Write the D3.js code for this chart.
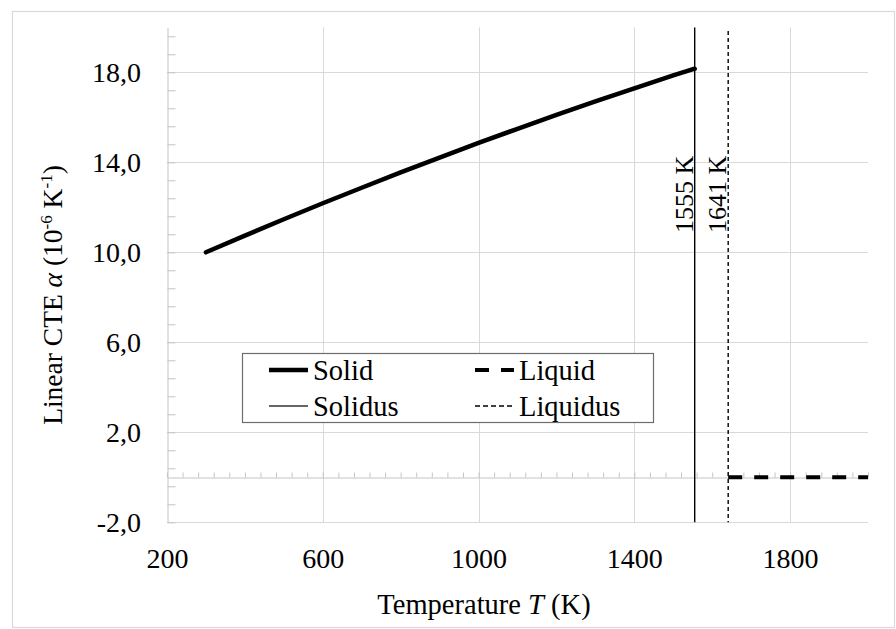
<!DOCTYPE html>
<html>
<head>
<meta charset="utf-8">
<script src="https://cdn.jsdelivr.net/npm/d3@7"></script>
<style>
  html, body { margin: 0; padding: 0; background: #fff; }
  svg { display: block; }
</style>
</head>
<body>
<svg id="chart" width="896" height="629"></svg>
<script>
// Linear coefficient of thermal expansion vs temperature
const solidT   = [300, 400, 500, 600, 700, 800, 900, 1000, 1100, 1200, 1300, 1400, 1500, 1555];
const solidCTE = [10.00, 10.74, 11.47, 12.18, 12.87, 13.55, 14.21, 14.86, 15.49, 16.11, 16.71, 17.29, 17.86, 18.16];
const liquidT   = [1641, 2000];
const liquidCTE = [0, 0];
const solidusT  = 1555;
const liquidusT = 1641;
const xTicks = [200, 600, 1000, 1400, 1800];
const yTicks = [-2, 2, 6, 10, 14, 18];
const markerLabels = ["1555 K", "1641 K"];
const legendLabels = ["Solid", "Liquid", "Solidus", "Liquidus"];

// pick the first serif face that is actually installed
function pickFont(candidates) {
  const ctx = document.createElement("canvas").getContext("2d");
  const probe = "Temperature 1234567890 Liquidus";
  ctx.font = "40px monospace";
  const base = ctx.measureText(probe).width;
  for (const f of candidates) {
    ctx.font = `40px "${f}", monospace`;
    if (Math.abs(ctx.measureText(probe).width - base) > 0.5) return `"${f}", serif`;
  }
  return "serif";
}
const FONT = pickFont(["Liberation Serif", "Tinos", "Times New Roman", "Nimbus Roman", "DejaVu Serif", "Noto Serif"]);

const svg = d3.select("#chart").style("font-family", FONT);
const gridColor = "#d9d9d9";
const tickColor = "#c4c4c4";

const x = d3.scaleLinear().domain([200, 2000]).range([167, 868]);
const y = d3.scaleLinear().domain([-2, 20]).range([522.3, 27.3]);

const fmt = d3.formatLocale({decimal: ",", thousands: ".", grouping: [3], currency: ["", ""], minus: "-"}).format(".1f");

// outer chart frame
svg.append("rect")
  .attr("x", 12.5).attr("y", 11.5).attr("width", 882).attr("height", 616)
  .attr("fill", "none").attr("stroke", gridColor).attr("stroke-width", 1.2);

// gridlines
const grid = svg.append("g");
grid.selectAll("line.h").data(yTicks).join("line")
  .attr("x1", x(200)).attr("x2", x(2000))
  .attr("y1", d => Math.round(y(d)) + 0.5).attr("y2", d => Math.round(y(d)) + 0.5)
  .attr("stroke", gridColor).attr("stroke-width", 1);
grid.selectAll("line.v").data(xTicks.slice(1)).join("line")
  .attr("x1", d => Math.round(x(d)) + 0.5).attr("x2", d => Math.round(x(d)) + 0.5)
  .attr("y1", y(20)).attr("y2", y(-2))
  .attr("stroke", gridColor).attr("stroke-width", 1);

// vertical axis line with inner minor ticks
const yMinor = d3.range(0, 28).map(i => -2 + i * 0.8);
const yMinorAxis = svg.append("g")
  .attr("transform", `translate(${Math.round(x(200)) + 0.5},0)`)
  .call(d3.axisRight(y).tickValues(yMinor).tickSize(8).tickSizeOuter(0).tickFormat(""));
yMinorAxis.selectAll("path, line").attr("stroke", tickColor);

// horizontal axis at zero with minor ticks
const xMinor = d3.range(0, 46).map(i => 200 + i * 40);
const xMinorAxis = svg.append("g")
  .attr("transform", `translate(0,${Math.round(y(0)) + 0.5})`)
  .call(d3.axisTop(x).tickValues(xMinor).tickSize(5).tickSizeOuter(0).tickFormat(""));
xMinorAxis.selectAll("path, line").attr("stroke", tickColor);

// tick labels
const yAxis = svg.append("g")
  .attr("transform", `translate(${x(200)},0)`)
  .call(d3.axisLeft(y).tickValues(yTicks).tickSize(0).tickPadding(26).tickFormat(fmt));
yAxis.select(".domain").remove();
yAxis.attr("font-family", FONT).attr("font-size", 28);
yAxis.selectAll("text").attr("dy", "0.34em").attr("fill", "#000");

const xAxis = svg.append("g")
  .attr("transform", `translate(0,${y(-2)})`)
  .call(d3.axisBottom(x).tickValues(xTicks).tickSize(0).tickPadding(26).tickFormat(d3.format("d")));
xAxis.select(".domain").remove();
xAxis.attr("font-family", FONT).attr("font-size", 28);
xAxis.selectAll("text").attr("fill", "#000");

// solidus & liquidus markers
svg.append("line")
  .attr("x1", x(solidusT)).attr("x2", x(solidusT))
  .attr("y1", 27.5).attr("y2", y(-2))
  .attr("stroke", "#000").attr("stroke-width", 1.4);
svg.append("line")
  .attr("x1", x(liquidusT)).attr("x2", x(liquidusT))
  .attr("y1", 31).attr("y2", y(-2))
  .attr("stroke", "#000").attr("stroke-width", 1.4).attr("stroke-dasharray", "4,3");

svg.selectAll("text.marker").data([solidusT, liquidusT]).join("text")
  .attr("class", "marker")
  .attr("transform", d => `translate(${x(d) - 2},233) rotate(-90)`)
  .attr("font-size", 26)
  .text((d, i) => markerLabels[i]);

// data lines
const line = d3.line().x(d => x(d[0])).y(d => y(d[1]));
svg.append("path")
  .datum(solidT.map((t, i) => [t, solidCTE[i]]))
  .attr("d", line)
  .attr("fill", "none").attr("stroke", "#000").attr("stroke-width", 4.5)
  .attr("stroke-linecap", "round").attr("stroke-linejoin", "round");
svg.append("path")
  .datum(liquidT.map((t, i) => [t, liquidCTE[i]]))
  .attr("d", line)
  .attr("fill", "none").attr("stroke", "#000").attr("stroke-width", 4)
  .attr("stroke-dasharray", "14,12");

// legend
const lg = svg.append("g");
lg.append("rect")
  .attr("x", 242.5).attr("y", 353.5).attr("width", 411).attr("height", 69)
  .attr("fill", "#fff").attr("stroke", "#6e6e6e").attr("stroke-width", 1.2);
const legendItems = [
  {lx: 269, ly: 370, w: 4.5, dash: null},
  {lx: 475, ly: 370, w: 4, dash: "14,12"},
  {lx: 269, ly: 406, w: 1.3, dash: null},
  {lx: 475, ly: 406, w: 1.3, dash: "5,3"}
];
legendItems.forEach((it, i) => {
  lg.append("line")
    .attr("x1", it.lx).attr("x2", it.lx + 39)
    .attr("y1", it.ly).attr("y2", it.ly)
    .attr("stroke", i === 2 ? "#333" : "#000").attr("stroke-width", it.w)
    .attr("stroke-dasharray", it.dash);
  lg.append("text")
    .attr("x", it.lx + 44).attr("y", it.ly + 10)
    .attr("font-size", 28.5)
    .text(legendLabels[i]);
});

// axis titles
const xt = svg.append("text")
  .attr("x", 484).attr("y", 614).attr("text-anchor", "middle").attr("font-size", 28.5);
xt.append("tspan").text("Temperature ");
xt.append("tspan").attr("font-style", "italic").text("T");
xt.append("tspan").text(" (K)");

const yt = svg.append("text")
  .attr("transform", "translate(62,295) rotate(-90)")
  .attr("text-anchor", "middle").attr("font-size", 27.5);
yt.append("tspan").text("Linear CTE ");
yt.append("tspan").attr("font-style", "italic").text("α");
yt.append("tspan").text(" (10");
yt.append("tspan").attr("font-size", 17).attr("dy", -10).text("-6");
yt.append("tspan").attr("dy", 10).text(" K");
yt.append("tspan").attr("font-size", 17).attr("dy", -10).text("-1");
yt.append("tspan").attr("dy", 10).text(")");
</script>
</body>
</html>
